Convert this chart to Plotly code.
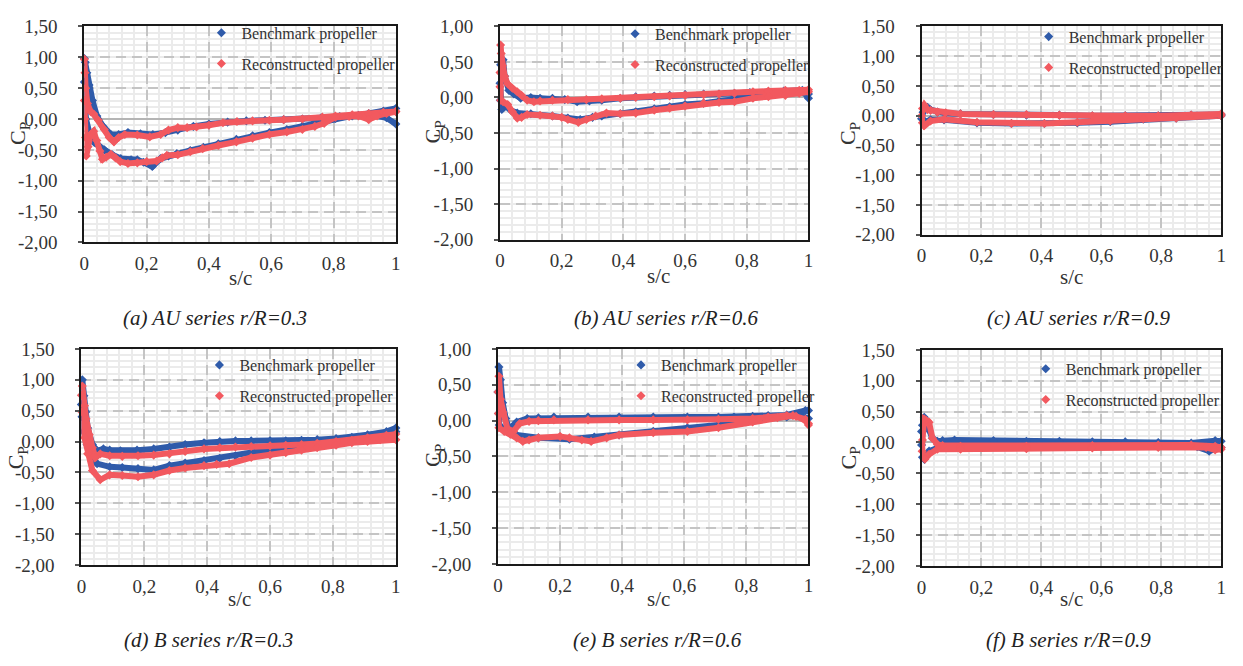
import plotly.graph_objects as go

W, H = 1243, 666

# ---------------- data (s/c, Cp) : loop TE -> LE -> TE ----------------
a_bench_s = [1.0, 0.97, 0.93, 0.88, 0.82, 0.76, 0.70, 0.64, 0.58, 0.52, 0.46, 0.40, 0.35, 0.30, 0.26, 0.22, 0.18, 0.14, 0.11, 0.085, 0.06, 0.04, 0.026, 0.015, 0.008, 0.003, 0.0,
             0.0, 0.002, 0.005, 0.015, 0.032, 0.05, 0.064, 0.09, 0.117, 0.15, 0.17, 0.19, 0.218, 0.245, 0.27, 0.297, 0.34, 0.382, 0.43, 0.488, 0.54, 0.594, 0.65, 0.70, 0.764, 0.806, 0.86, 0.913, 0.96, 1.0]
a_bench_cp = [-0.08, 0.02, 0.06, 0.06, 0.04, 0.02, 0.0, -0.01, -0.02, -0.03, -0.05, -0.08, -0.12, -0.18, -0.22, -0.25, -0.24, -0.22, -0.25, -0.25, -0.12, 0.05, 0.30, 0.55, 0.75, 0.92, 0.98,
              0.60, 0.30, 0.0, -0.2, -0.38, -0.45, -0.5, -0.58, -0.64, -0.66, -0.66, -0.70, -0.77, -0.64, -0.60, -0.56, -0.51, -0.46, -0.40, -0.33, -0.27, -0.22, -0.17, -0.12, -0.04, 0.01, 0.05, 0.09, 0.13, 0.17]
a_recon_s = [1.0, 0.96, 0.913, 0.86, 0.806, 0.764, 0.70, 0.64, 0.594, 0.54, 0.49, 0.445, 0.40, 0.36, 0.33, 0.30, 0.27, 0.245, 0.21, 0.17, 0.13, 0.11, 0.095, 0.08, 0.064, 0.045, 0.03, 0.02, 0.01, 0.004, 0.002, 0.0,
             0.0, 0.002, 0.004, 0.006, 0.012, 0.02, 0.03, 0.04, 0.05, 0.058, 0.07, 0.085, 0.10, 0.115, 0.14, 0.17, 0.20, 0.232, 0.25, 0.265, 0.30, 0.34, 0.38, 0.43, 0.488, 0.54, 0.594, 0.65, 0.70, 0.74, 0.77, 0.806, 0.85, 0.88, 0.913, 0.94, 0.97, 1.0]
a_recon_cp = [0.12, 0.11, 0.09, 0.07, 0.05, 0.03, 0.0, -0.01, -0.02, -0.03, -0.04, -0.06, -0.10, -0.13, -0.14, -0.14, -0.18, -0.25, -0.29, -0.26, -0.25, -0.30, -0.37, -0.30, -0.17, -0.02, 0.08, 0.12, 0.25, 0.50, 0.75, 0.97,
              0.30, 0.0, -0.30, -0.60, -0.45, -0.25, -0.20, -0.35, -0.52, -0.65, -0.62, -0.57, -0.63, -0.69, -0.72, -0.71, -0.69, -0.68, -0.63, -0.59, -0.58, -0.53, -0.48, -0.43, -0.37, -0.31, -0.25, -0.21, -0.17, -0.12, -0.07, 0.03, 0.04, 0.05, -0.01, 0.05, 0.09, 0.12]

b_bench_s = [1.0, 0.98, 0.92, 0.87, 0.81, 0.76, 0.71, 0.66, 0.60, 0.55, 0.50, 0.44, 0.39, 0.33, 0.29, 0.25, 0.21, 0.17, 0.13, 0.10, 0.067, 0.045, 0.029, 0.015, 0.01, 0.004, 0.002,
             0.0, 0.001, 0.006, 0.02, 0.035, 0.056, 0.10, 0.17, 0.22, 0.26, 0.30, 0.33, 0.39, 0.44, 0.50, 0.55, 0.60, 0.66, 0.71, 0.76, 0.82, 0.87, 0.93, 0.98, 1.0]
b_bench_cp = [-0.01, 0.10, 0.09, 0.08, 0.07, 0.06, 0.05, 0.05, 0.04, 0.03, 0.02, 0.01, -0.01, -0.04, -0.05, -0.06, -0.03, -0.01, -0.01, 0.0, -0.01, 0.05, 0.10, 0.30, 0.53, 0.50, 0.46,
              0.20, -0.04, -0.17, -0.12, -0.18, -0.22, -0.23, -0.26, -0.29, -0.31, -0.28, -0.26, -0.23, -0.20, -0.16, -0.13, -0.10, -0.08, -0.05, -0.01, 0.01, 0.03, 0.06, 0.08, 0.05]
b_recon_s = [1.0, 0.97, 0.925, 0.87, 0.82, 0.76, 0.71, 0.66, 0.60, 0.55, 0.50, 0.44, 0.39, 0.33, 0.28, 0.22, 0.17, 0.13, 0.11, 0.088, 0.07, 0.056, 0.04, 0.025, 0.015, 0.008, 0.004, 0.002,
             0.0, 0.0, 0.002, 0.01, 0.025, 0.04, 0.056, 0.07, 0.088, 0.13, 0.17, 0.20, 0.22, 0.254, 0.28, 0.31, 0.345, 0.39, 0.44, 0.50, 0.55, 0.60, 0.66, 0.71, 0.76, 0.82, 0.87, 0.925, 0.97, 1.0]
b_recon_cp = [0.11, 0.10, 0.10, 0.09, 0.08, 0.06, 0.05, 0.04, 0.03, 0.02, 0.01, 0.0, -0.01, -0.02, -0.03, -0.03, -0.04, -0.05, -0.06, -0.04, 0.03, 0.08, 0.13, 0.19, 0.30, 0.45, 0.62, 0.74,
              0.35, 0.15, -0.04, -0.06, -0.10, -0.20, -0.29, -0.28, -0.24, -0.25, -0.26, -0.28, -0.31, -0.35, -0.31, -0.26, -0.22, -0.23, -0.22, -0.18, -0.15, -0.12, -0.08, -0.07, -0.06, -0.01, 0.01, 0.03, 0.06, 0.08]

c_bench_s = [1.0, 0.90, 0.79, 0.68, 0.57, 0.46, 0.35, 0.24, 0.13, 0.08, 0.053, 0.03, 0.02, 0.012, 0.005,
             0.0, 0.005, 0.012, 0.03, 0.075, 0.185, 0.30, 0.41, 0.52, 0.63, 0.74, 0.85, 1.0]
c_bench_cp = [0.02, 0.01, 0.0, 0.0, 0.0, 0.01, 0.01, 0.02, 0.03, 0.04, 0.06, 0.10, 0.14, 0.12, 0.06,
              -0.05, -0.12, -0.10, -0.07, -0.07, -0.12, -0.13, -0.13, -0.12, -0.10, -0.06, -0.04, 0.0]
c_recon_s = [1.0, 0.90, 0.79, 0.68, 0.57, 0.46, 0.35, 0.24, 0.13, 0.08, 0.053, 0.03, 0.02, 0.009, 0.003,
             0.0, 0.003, 0.009, 0.03, 0.075, 0.185, 0.30, 0.41, 0.52, 0.63, 0.74, 0.85, 1.0]
c_recon_cp = [0.03, 0.01, 0.0, 0.0, 0.0, 0.01, 0.02, 0.02, 0.03, 0.05, 0.06, 0.09, 0.10, 0.18, 0.12,
              0.0, -0.12, -0.17, -0.09, -0.06, -0.11, -0.13, -0.13, -0.11, -0.09, -0.05, -0.04, 0.0]

d_bench_s = [1.0, 0.97, 0.91, 0.86, 0.81, 0.75, 0.70, 0.65, 0.60, 0.54, 0.49, 0.44, 0.39, 0.33, 0.28, 0.23, 0.177, 0.124, 0.09, 0.07, 0.05, 0.035, 0.02, 0.014, 0.008, 0.003,
             0.0, 0.002, 0.008, 0.018, 0.03, 0.05, 0.09, 0.13, 0.18, 0.23, 0.28, 0.33, 0.39, 0.44, 0.49, 0.54, 0.60, 0.65, 0.70, 0.75, 0.81, 0.86, 0.91, 0.96, 1.0]
d_bench_cp = [0.22, 0.16, 0.11, 0.07, 0.05, 0.03, 0.02, 0.01, 0.01, 0.01, 0.01, 0.0, -0.02, -0.05, -0.09, -0.12, -0.14, -0.15, -0.14, -0.12, -0.15, -0.05, 0.22, 0.48, 0.74, 1.0,
              0.60, 0.40, 0.16, -0.05, -0.20, -0.36, -0.41, -0.42, -0.44, -0.46, -0.39, -0.35, -0.31, -0.27, -0.23, -0.18, -0.12, -0.09, -0.07, -0.04, 0.0, 0.03, 0.06, 0.11, 0.16]
d_recon_s = [1.0, 0.97, 0.91, 0.86, 0.81, 0.75, 0.70, 0.65, 0.60, 0.54, 0.49, 0.44, 0.39, 0.33, 0.28, 0.23, 0.18, 0.13, 0.09, 0.06, 0.045, 0.035, 0.025, 0.015, 0.01, 0.003,
             0.0, 0.002, 0.01, 0.02, 0.035, 0.06, 0.09, 0.13, 0.18, 0.23, 0.28, 0.33, 0.39, 0.43, 0.47, 0.54, 0.60, 0.65, 0.70, 0.75, 0.81, 0.86, 0.91, 0.95, 1.0]
d_recon_cp = [0.12, 0.10, 0.06, 0.02, 0.0, -0.03, -0.05, -0.06, -0.07, -0.08, -0.09, -0.10, -0.12, -0.16, -0.20, -0.22, -0.23, -0.24, -0.23, -0.20, -0.26, -0.10, 0.11, 0.37, 0.58, 0.90,
              0.75, 0.48, 0.06, -0.20, -0.47, -0.62, -0.54, -0.55, -0.57, -0.54, -0.47, -0.43, -0.39, -0.37, -0.36, -0.26, -0.22, -0.18, -0.14, -0.10, -0.06, -0.02, 0.0, 0.03, 0.03]

e_bench_s = [1.0, 0.99, 0.93, 0.87, 0.82, 0.76, 0.71, 0.61, 0.50, 0.39, 0.29, 0.18, 0.13, 0.094, 0.06, 0.045, 0.035, 0.025, 0.015, 0.008, 0.003,
             0.0, 0.002, 0.004, 0.02, 0.04, 0.06, 0.13, 0.23, 0.31, 0.39, 0.50, 0.61, 0.71, 0.82, 0.93, 0.97, 1.0]
e_bench_cp = [0.14, 0.14, 0.08, 0.07, 0.06, 0.05, 0.05, 0.05, 0.05, 0.05, 0.05, 0.05, 0.04, 0.03, -0.02, -0.10, -0.12, 0.03, 0.25, 0.57, 0.75,
              0.40, 0.10, -0.06, -0.13, -0.18, -0.20, -0.24, -0.26, -0.23, -0.20, -0.15, -0.10, -0.06, 0.01, 0.05, 0.07, 0.03]
e_recon_s = [1.0, 0.99, 0.96, 0.93, 0.87, 0.82, 0.71, 0.61, 0.50, 0.39, 0.29, 0.18, 0.13, 0.10, 0.07, 0.05, 0.03, 0.015, 0.008, 0.003,
             0.0, 0.001, 0.003, 0.02, 0.04, 0.06, 0.08, 0.10, 0.13, 0.20, 0.23, 0.27, 0.30, 0.35, 0.39, 0.50, 0.61, 0.71, 0.82, 0.90, 0.95, 0.99, 1.0]
e_recon_cp = [-0.04, 0.0, 0.06, 0.07, 0.05, 0.03, 0.02, 0.01, 0.01, 0.01, 0.01, 0.01, 0.0, -0.01, -0.04, -0.15, -0.11, 0.12, 0.30, 0.62,
              0.40, 0.10, -0.10, -0.15, -0.19, -0.24, -0.29, -0.27, -0.24, -0.22, -0.24, -0.27, -0.29, -0.24, -0.20, -0.17, -0.15, -0.10, -0.02, 0.04, 0.07, 0.02, -0.06]

f_bench_s = [1.0, 0.98, 0.90, 0.79, 0.68, 0.57, 0.46, 0.35, 0.24, 0.11, 0.07, 0.053, 0.036, 0.025, 0.015, 0.009, 0.003, 0.0,
             0.0, 0.003, 0.009, 0.025, 0.053, 0.13, 0.35, 0.57, 0.79, 0.92, 0.96, 0.98, 1.0]
f_bench_cp = [0.02, 0.03, -0.01, 0.0, 0.01, 0.01, 0.02, 0.02, 0.03, 0.04, 0.03, 0.02, 0.07, 0.20, 0.35, 0.41, 0.28, 0.18,
              -0.04, -0.24, -0.27, -0.14, -0.09, -0.09, -0.09, -0.07, -0.06, -0.07, -0.14, -0.10, -0.08]
f_recon_s = [1.0, 0.98, 0.90, 0.79, 0.57, 0.35, 0.13, 0.07, 0.053, 0.036, 0.025, 0.015, 0.009, 0.003,
             0.002, 0.011, 0.025, 0.053, 0.13, 0.35, 0.57, 0.79, 0.95, 0.98, 1.0]
f_recon_cp = [-0.08, -0.06, -0.04, -0.04, -0.05, -0.06, -0.06, -0.05, -0.03, 0.07, 0.33, 0.36, 0.38, 0.04,
              -0.14, -0.27, -0.19, -0.11, -0.11, -0.10, -0.09, -0.08, -0.08, -0.12, -0.11]

# ---------------- axis ticks / labels ----------------
x_tick_vals = [0, 0.2, 0.4, 0.6, 0.8, 1.0]
x_tick_text = ["0", "0,2", "0,4", "0,6", "0,8", "1"]
y_tick_vals_15 = [1.5, 1.0, 0.5, 0.0, -0.5, -1.0, -1.5, -2.0]
y_tick_text_15 = ["1,50", "1,00", "0,50", "0,00", "-0,50", "-1,00", "-1,50", "-2,00"]
y_tick_vals_10 = [1.0, 0.5, 0.0, -0.5, -1.0, -1.5, -2.0]
y_tick_text_10 = ["1,00", "0,50", "0,00", "-0,50", "-1,00", "-1,50", "-2,00"]

series_names = ["Benchmark propeller", "Reconstructed propeller"]
captions = ["(a) AU series r/R=0.3", "(b) AU series r/R=0.6", "(c) AU series r/R=0.9",
            "(d) B series r/R=0.3", "(e) B series r/R=0.6", "(f) B series r/R=0.9"]

BLUE = "#2F5BAA"
RED = "#F2595F"
FONT = "Liberation Serif, Times New Roman, serif"

panels = [
    dict(bench=(a_bench_s, a_bench_cp), recon=(a_recon_s, a_recon_cp), big=True,
         box=(80, 394, 17, 240), xt=(237, 277), yt=(14, 127), cap=(212, 318), leg=(238, 6)),
    dict(bench=(b_bench_s, b_bench_cp), recon=(b_recon_s, b_recon_cp), big=False,
         box=(499, 810, 17, 237), xt=(659, 275), yt=(433, 126), cap=(667, 318), leg=(655, 7)),
    dict(bench=(c_bench_s, c_bench_cp), recon=(c_recon_s, c_recon_cp), big=True,
         box=(924, 1226, 17, 232), xt=(1075, 276), yt=(851, 128), cap=(1082, 318), leg=(1072, 10)),
    dict(bench=(d_bench_s, d_bench_cp), recon=(d_recon_s, d_recon_cp), big=True,
         box=(77, 394, 350, 573), xt=(236, 608), yt=(13, 462), cap=(205, 650), leg=(236, 349)),
    dict(bench=(e_bench_s, e_bench_cp), recon=(e_recon_s, e_recon_cp), big=False,
         box=(497, 810, 350, 572), xt=(659, 608), yt=(433, 460), cap=(658, 650), leg=(661, 349)),
    dict(bench=(f_bench_s, f_bench_cp), recon=(f_recon_s, f_recon_cp), big=True,
         box=(924, 1226, 351, 574), xt=(1075, 608), yt=(852, 463), cap=(1072, 650), leg=(1069, 353)),
]

fig = go.Figure()
annotations = []
layout_axes = {}
legends = {}

for i, p in enumerate(panels):
    n = i + 1
    xa = "x" if n == 1 else f"x{n}"
    ya = "y" if n == 1 else f"y{n}"
    lg = "legend" if n == 1 else f"legend{n}"
    for (s, cp), name, col in ((p["bench"], series_names[0], BLUE), (p["recon"], series_names[1], RED)):
        fig.add_trace(go.Scatter(x=s, y=cp, mode="lines", line=dict(color=col, width=6),
                                 showlegend=False, xaxis=xa, yaxis=ya, hoverinfo="skip"))
        fig.add_trace(go.Scatter(x=s, y=cp, mode="markers", name=name,
                                 marker=dict(symbol="diamond", size=7, color=col),
                                 legend=lg, legendgroup=f"{name}{n}",
                                 xaxis=xa, yaxis=ya, cliponaxis=False))
    x0, x1, y0, y1 = p["box"]
    dom_x = [x0 / W, x1 / W]
    dom_y = [1 - y1 / H, 1 - y0 / H]
    if p["big"]:
        yv, yt, yr = y_tick_vals_15, y_tick_text_15, [-2.0, 1.5]
    else:
        yv, yt, yr = y_tick_vals_10, y_tick_text_10, [-2.0, 1.0]
    xkey = "xaxis" if n == 1 else f"xaxis{n}"
    ykey = "yaxis" if n == 1 else f"yaxis{n}"
    layout_axes[xkey] = dict(
        domain=dom_x, range=[0, 1], anchor=ya, tickmode="array", tickvals=x_tick_vals, ticktext=x_tick_text,
        showgrid=True, gridcolor="#c4c4c4", gridwidth=2, griddash="10px,6px",
        minor=dict(dtick=0.04, tick0=0, showgrid=True, gridcolor="#ebebeb", gridwidth=1.5, griddash="solid"),
        zeroline=False, showline=True, mirror=True, linecolor="#1a1a1a", linewidth=2,
        ticks="", ticklabelstandoff=3, layer="below traces",
        tickfont=dict(family=FONT, size=19, color="#333333"), fixedrange=True)
    layout_axes[ykey] = dict(
        domain=dom_y, range=yr, anchor=xa, tickmode="array", tickvals=yv, ticktext=yt,
        showgrid=True, gridcolor="#c4c4c4", gridwidth=2, griddash="10px,6px",
        minor=dict(dtick=0.1, tick0=0, showgrid=True, gridcolor="#ebebeb", gridwidth=1.5, griddash="solid"),
        zeroline=True, zerolinecolor="#b5b5b5", zerolinewidth=1.5,
        showline=True, mirror=True, linecolor="#1a1a1a", linewidth=2,
        ticks="outside", ticklen=4, tickwidth=1.5, tickcolor="#555555", ticklabelstandoff=17,
        tickfont=dict(family=FONT, size=19, color="#333333"), fixedrange=True)
    tx, ty = p["leg"]
    legends[lg] = dict(x=(tx - 40) / W, y=1 - ty / H, xanchor="left", yanchor="top",
                       bgcolor="rgba(0,0,0,0)", font=dict(family=FONT, size=16, color="#333333"),
                       tracegroupgap=7, itemwidth=30)
    # axis titles and caption
    annotations.append(dict(text="s/c", x=p["xt"][0] / W, y=1 - p["xt"][1] / H, xref="paper", yref="paper",
                            showarrow=False, xanchor="center", yanchor="middle",
                            font=dict(family=FONT, size=21, color="#333333")))
    annotations.append(dict(text="C<sub>P</sub>", x=p["yt"][0] / W, y=1 - p["yt"][1] / H, xref="paper", yref="paper",
                            showarrow=False, xanchor="center", yanchor="middle", textangle=-90,
                            font=dict(family=FONT, size=22, color="#333333")))
    annotations.append(dict(text=f"<i>{captions[i]}</i>", x=p["cap"][0] / W, y=1 - p["cap"][1] / H,
                            xref="paper", yref="paper", showarrow=False, xanchor="center", yanchor="middle",
                            font=dict(family=FONT, size=21, color="#222222")))

fig.update_layout(width=W, height=H, margin=dict(l=0, r=0, t=0, b=0),
                  paper_bgcolor="white", plot_bgcolor="white",
                  font=dict(family=FONT), annotations=annotations, **layout_axes, **legends)

fig.write_html("out.html")
